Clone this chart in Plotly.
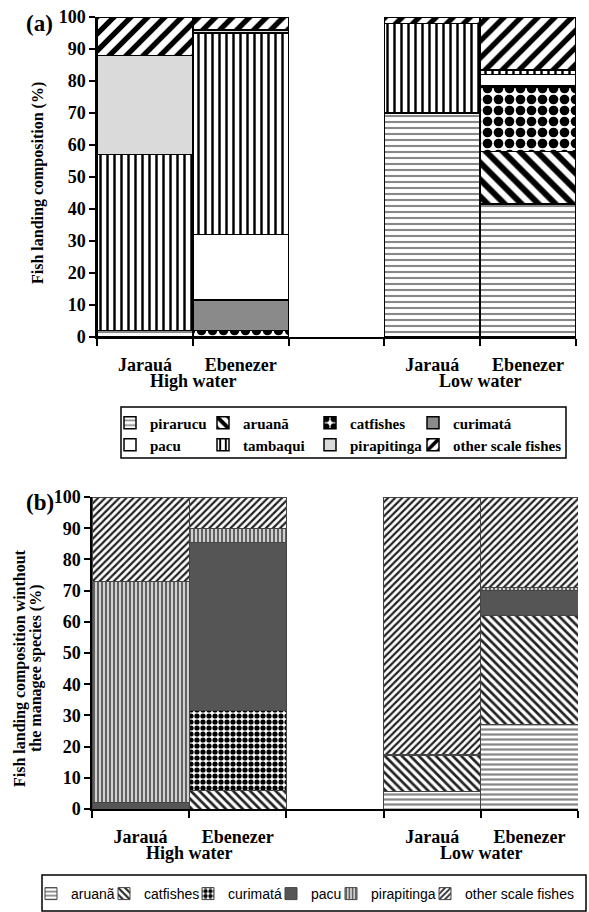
import plotly.graph_objects as go

# ---------------- DATA ----------------
seasons = ["High water", "Low water"]
sites = ["Jarauá", "Ebenezer"]
bar_season = [0, 0, 1, 1]
bar_site = [0, 1, 0, 1]
y_ticks = list(range(0, 101, 10))

# panel (a): fish landing composition (%)
species_a = ["pirarucu", "aruanã", "catfishes", "curimatá",
             "pacu", "tambaqui", "pirapitinga", "other scale fishes"]
pirarucu_a = [2, 0, 70, 41.5]
aruana_a = [0, 0, 0, 16.5]
catfishes_a = [0, 2, 0, 20]
curimata_a = [0, 9.5, 0, 0.5]
pacu_a = [0, 20.5, 0, 3.5]
tambaqui_a = [55, 63, 28, 1.5]
pirapitinga_a = [31, 1, 0, 0]
other_a = [12, 4, 2, 16.5]
values_a = [pirarucu_a, aruana_a, catfishes_a, curimata_a,
            pacu_a, tambaqui_a, pirapitinga_a, other_a]

# panel (b): composition without the managed species (%)
species_b = ["aruanã", "catfishes", "curimatá", "pacu", "pirapitinga", "other scale fishes"]
aruana_b = [0, 0, 5.5, 27]
catfishes_b = [0, 6, 11.5, 35]
curimata_b = [0, 25.5, 0, 0]
pacu_b = [2, 54, 0.5, 8]
pirapitinga_b = [71, 4.5, 0, 1]
other_b = [27, 10, 82.5, 29]
values_b = [aruana_b, catfishes_b, curimata_b, pacu_b, pirapitinga_b, other_b]

# ---------------- STYLE ----------------
W, H = 589, 912
SERIF = "Liberation Serif"
SANS = "Liberation Sans"

def pat(shape="", fg="black", bg="white", size=8, sol=0.4, color="white"):
    return dict(color=color, pattern=dict(shape=shape, fgcolor=fg, bgcolor=bg,
                                          size=size, solidity=sol, fillmode="replace"))

style_a = {
    "pirarucu": pat("-", "#888", "white", 6, 0.35),
    "aruanã": pat("\\", "black", "white", 12, 0.5),
    "catfishes": pat(".", "black", "white", 11, 0.6),
    "curimatá": pat(color="#8a8a8a", bg="#8a8a8a"),
    "pacu": pat(color="white"),
    "tambaqui": pat("|", "black", "white", 7, 0.35),
    "pirapitinga": pat(color="#dadada", bg="#dadada"),
    "other scale fishes": pat("/", "black", "white", 12, 0.45),
}
legend_a = {"pirarucu": "legend", "aruanã": "legend", "catfishes": "legend", "curimatá": "legend",
            "pacu": "legend2", "tambaqui": "legend2", "pirapitinga": "legend2",
            "other scale fishes": "legend2"}
col_w_a = {"pirarucu": 48, "pacu": 48, "aruanã": 62, "tambaqui": 62,
           "catfishes": 58, "pirapitinga": 58, "curimatá": 118, "other scale fishes": 118}

style_b = {
    "aruanã": pat("-", "#888", "white", 5, 0.45),
    "catfishes": pat("\\", "#222", "white", 6, 0.45),
    "curimatá": pat(".", "black", "white", 6, 0.6),
    "pacu": pat(color="#555555", bg="#555555"),
    "pirapitinga": pat("|", "#555", "#d0d0d0", 4, 0.45),
    "other scale fishes": pat("/", "#222", "white", 5, 0.45),
}
col_w_b = {"aruanã": 28, "catfishes": 39, "curimatá": 38, "pacu": 15,
           "pirapitinga": 49, "other scale fishes": 112}

x_pos = [s * 3 + t for s, t in zip(bar_season, bar_site)]
x_text = ["<b>%s</b>" % sites[t] for t in bar_site]

fig = go.Figure()
for name, vals in zip(species_a, values_a):
    m = dict(style_a[name])
    m["line"] = dict(color="black", width=1.5)
    fig.add_trace(go.Bar(x=x_pos, y=vals, width=1, name="<b>%s</b>" % name, marker=m,
                         xaxis="x", yaxis="y", legend=legend_a[name],
                         legendwidth=col_w_a[name]))
for name, vals in zip(species_b, values_b):
    m = dict(style_b[name])
    m["line"] = dict(color="#444", width=1)
    fig.add_trace(go.Bar(x=x_pos, y=vals, width=1, name=name, marker=m,
                         xaxis="x2", yaxis="y2", legend="legend3",
                         legendwidth=col_w_b[name]))

def px(v):
    return v / W

def py(v):
    return 1 - v / H

xmin, xmax = min(x_pos) - 0.5, max(x_pos) + 0.5
bounds = [xmin + k for k in range(int(xmax - xmin) + 1)]

tickfont = dict(family=SERIF, size=18, color="black")

def xax(domain):
    return dict(domain=domain, range=[xmin, xmax], showline=True, linecolor="black",
                linewidth=1.5, tickmode="array", tickvals=x_pos, ticktext=x_text,
                ticks="", tickfont=tickfont, showgrid=False, zeroline=False,
                ticklabelstandoff=11, automargin=False,
                minor=dict(tickmode="array", tickvals=bounds, ticks="outside",
                           ticklen=7, tickwidth=1.5, tickcolor="black"))

def yax(domain, anchor):
    return dict(domain=domain, range=[0, 100], tickmode="array", tickvals=y_ticks,
                ticktext=["<b>%d</b>" % v for v in y_ticks],
                ticks="outside", ticklen=6, tickwidth=1.5, tickcolor="black",
                showline=True, linecolor="black", linewidth=1.5, showgrid=False,
                zeroline=False, tickfont=tickfont, anchor=anchor, automargin=False)

fig.update_layout(
    width=W, height=H, margin=dict(l=0, r=0, t=0, b=0, autoexpand=False),
    plot_bgcolor="white", paper_bgcolor="white", barmode="stack",
    xaxis=dict(xax([px(97), px(576)]), anchor="y"),
    yaxis=yax([py(337), py(17)], "x"),
    xaxis2=dict(xax([px(92), px(578)]), anchor="y2"),
    yaxis2=yax([py(809), py(497)], "x2"),
    legend=dict(orientation="h", x=px(110), xanchor="left", y=py(423), yanchor="middle",
                font=dict(family=SERIF, size=15, color="black"),
                bgcolor="rgba(0,0,0,0)", traceorder="normal", itemwidth=30),
    legend2=dict(orientation="h", x=px(110), xanchor="left", y=py(445), yanchor="middle",
                 font=dict(family=SERIF, size=15, color="black"),
                 bgcolor="rgba(0,0,0,0)", traceorder="normal", itemwidth=30),
    legend3=dict(orientation="h", x=px(31), xanchor="left", y=py(894), yanchor="middle",
                 font=dict(family=SANS, size=14, color="black"),
                 bgcolor="rgba(0,0,0,0)", traceorder="normal", itemwidth=30),
    showlegend=True,
)

shapes = [
    dict(type="rect", xref="paper", yref="paper", x0=px(121), x1=px(566),
         y0=py(458), y1=py(407), line=dict(color="black", width=1.5)),
    dict(type="rect", xref="paper", yref="paper", x0=px(42), x1=px(586),
         y0=py(911), y1=py(875), line=dict(color="black", width=1.5)),
]
fig.update_layout(shapes=shapes)

ann = []
lab = dict(family=SERIF, size=18, color="black")
for si, season in enumerate(seasons):
    xs = [x for x, s in zip(x_pos, bar_season) if s == si]
    xc = sum(xs) / len(xs)
    ann.append(dict(text="<b>%s</b>" % season, x=xc, xref="x", y=py(381), yref="paper",
                    showarrow=False, font=lab, xanchor="center", yanchor="middle"))
    ann.append(dict(text="<b>%s</b>" % season, x=xc, xref="x2", y=py(853), yref="paper",
                    showarrow=False, font=lab, xanchor="center", yanchor="middle"))
ttl = dict(family=SERIF, size=16, color="black")
common = dict(xref="paper", yref="paper", showarrow=False, xanchor="center", yanchor="middle")
ann += [
    dict(text="<b>(a)</b>", x=px(39), y=py(23), font=dict(family=SERIF, size=23, color="black"),
         **common),
    dict(text="<b>(b)</b>", x=px(40), y=py(502), font=dict(family=SERIF, size=23, color="black"),
         **common),
    dict(text="<b>Fish landing composition (%)</b>", x=px(38), y=py(183), textangle=-90,
         font=ttl, **common),
    dict(text="<b>Fish landing composition winthout</b>", x=px(20), y=py(668), textangle=-90,
         font=ttl, **common),
    dict(text="<b>the managee species (%)</b>", x=px(36), y=py(668), textangle=-90,
         font=ttl, **common),
]
fig.update_layout(annotations=ann)

fig.write_html("out.html", config={"displayModeBar": False},
               post_script="document.body.style.margin='0';document.body.style.overflow='hidden';")
